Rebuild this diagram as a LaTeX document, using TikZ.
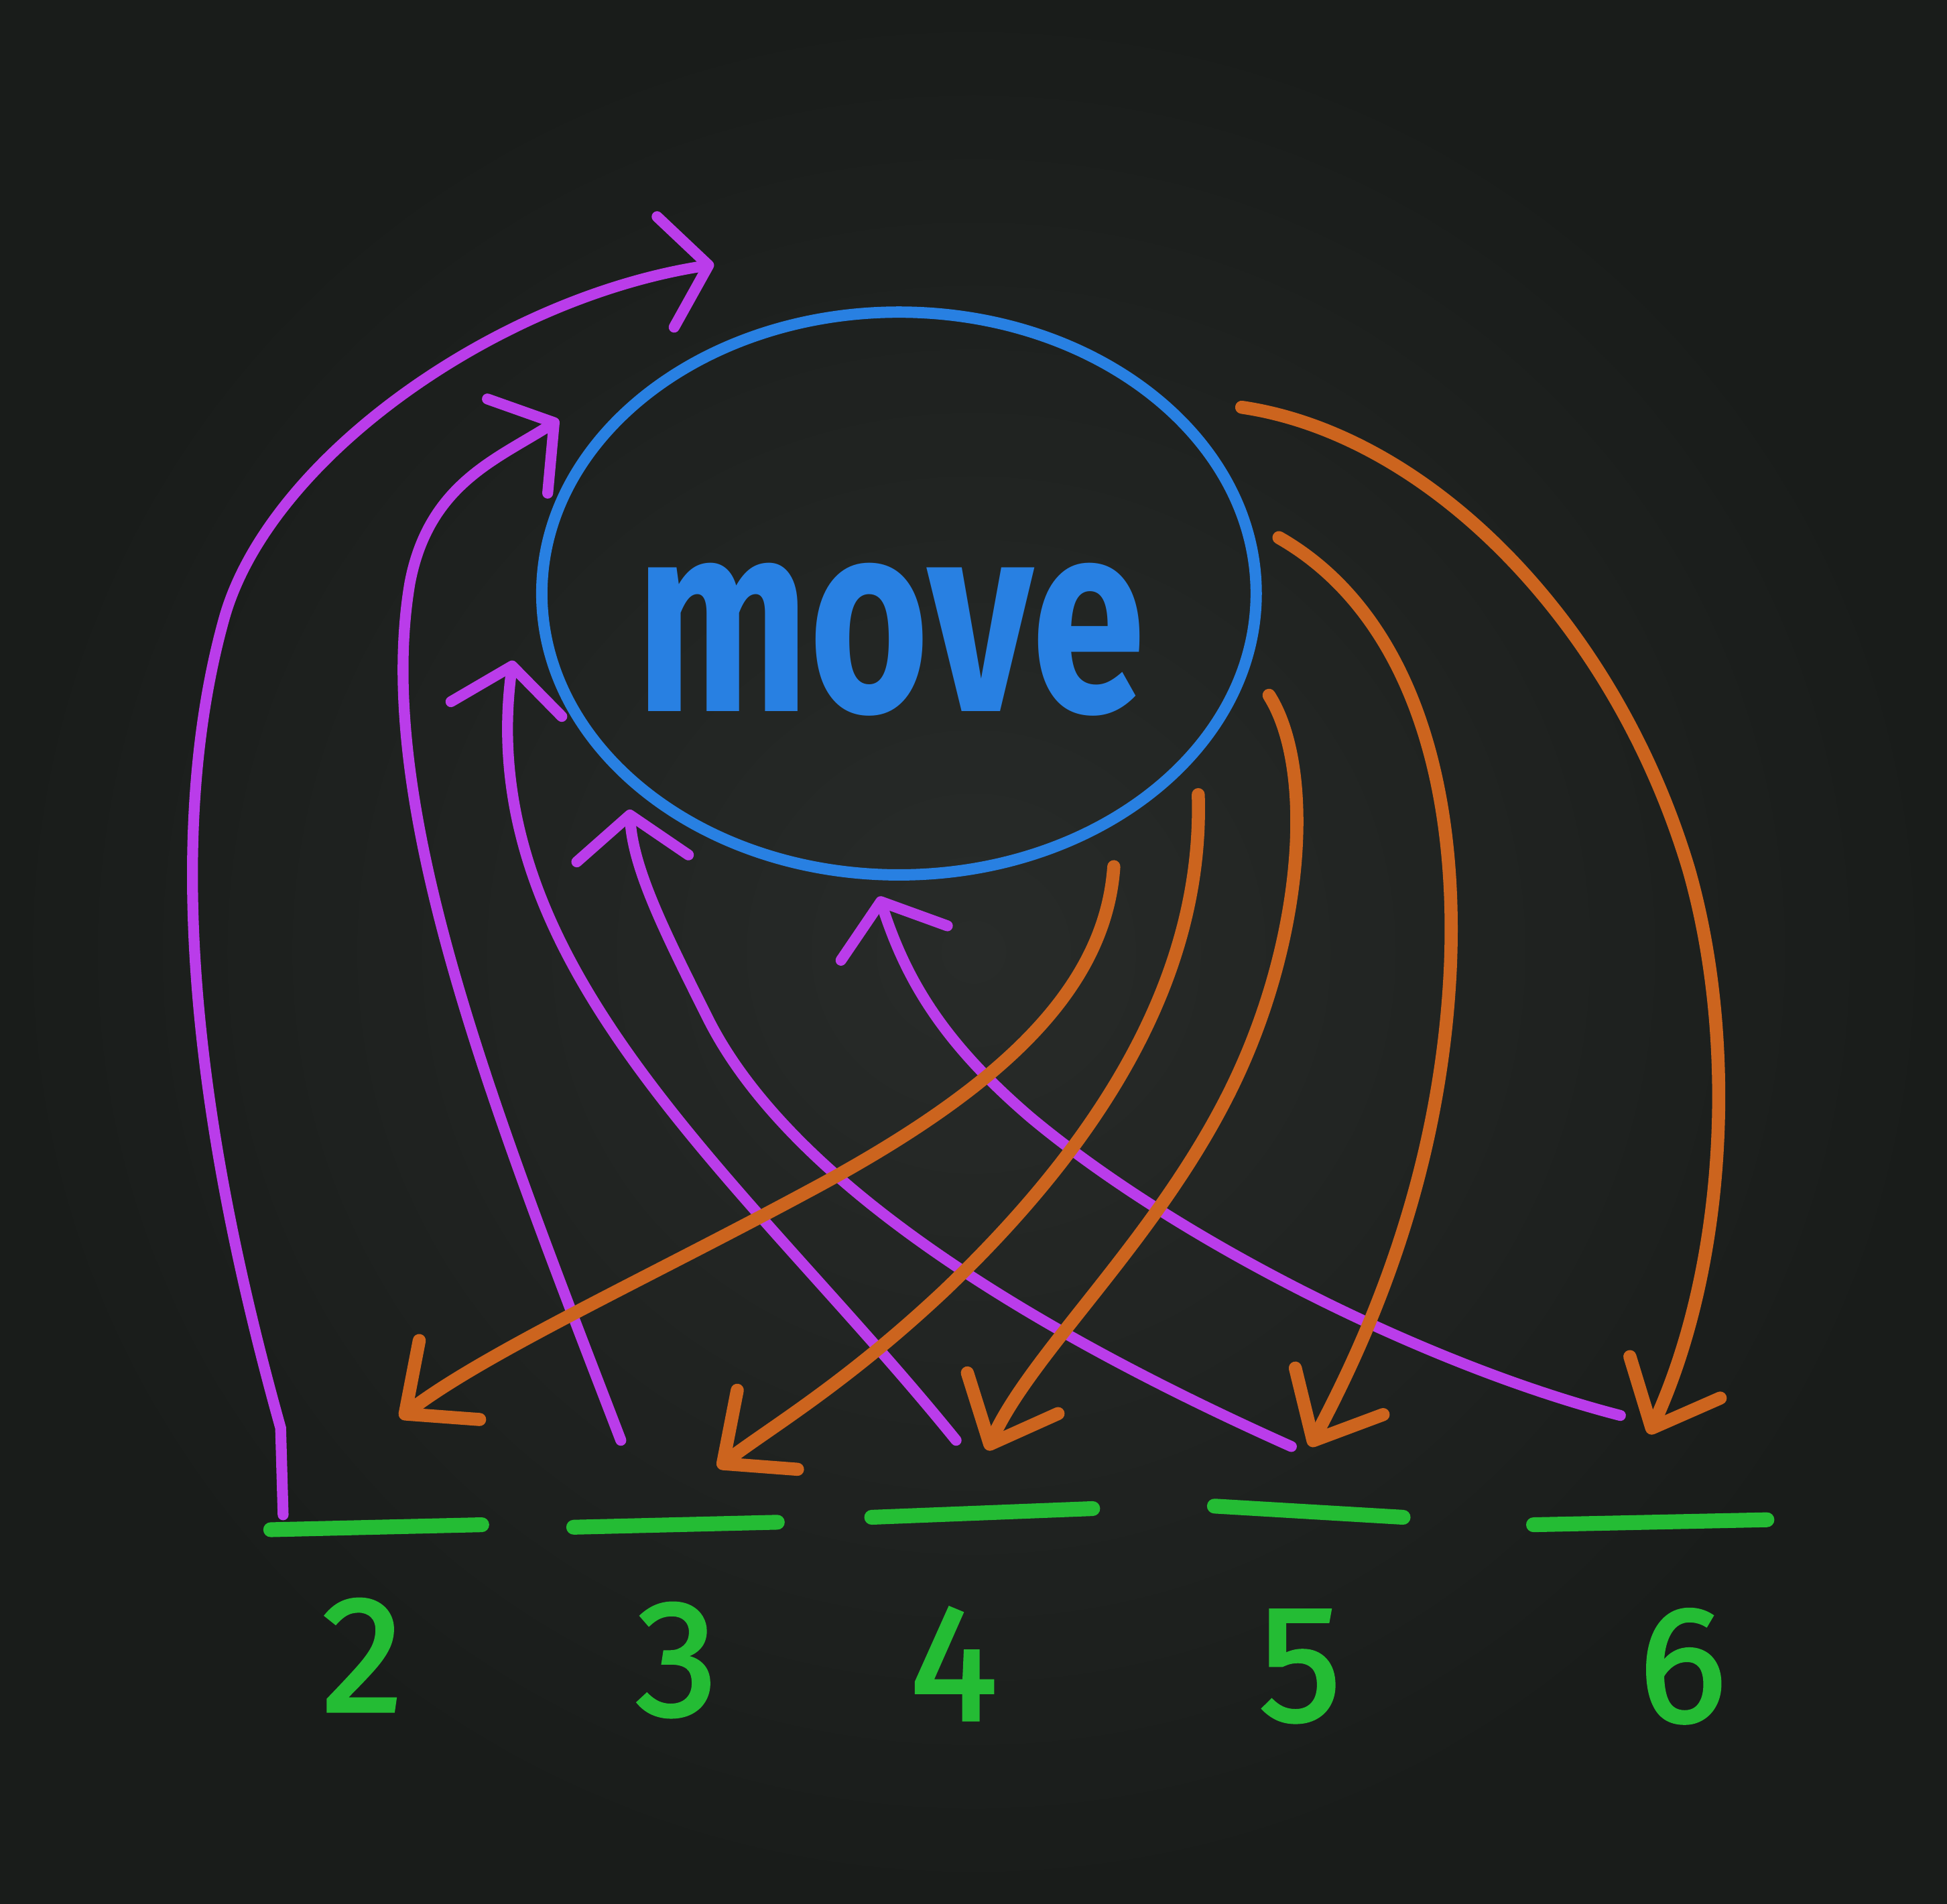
\documentclass[tikz,border=0pt]{standalone}
\usepackage{fontspec}
\setmainfont{Fira Sans}
\newfontfamily\digitfont{Fira Sans}[FakeBold=1.6]
\usetikzlibrary{arrows.meta,shapes.geometric}
\definecolor{board}{RGB}{25,28,26}
\definecolor{boardhi}{RGB}{40,43,41}
\definecolor{mkpurple}{RGB}{186,60,234}
\definecolor{mkorange}{RGB}{204,100,30}
\definecolor{mkblue}{RGB}{40,128,226}
\definecolor{mkgreen}{RGB}{36,188,52}
\begin{document}
\begin{tikzpicture}[x=0.01cm,y=-0.01cm,
  pline/.style={draw=mkpurple,line width=2.5pt,line cap=round,-{Straight Barb[length=3.5mm,width=9mm,round]}},
  oline/.style={draw=mkorange,line width=3pt,line cap=round,-{Straight Barb[length=4.5mm,width=8mm,round]}},
  slotline/.style={draw=mkgreen,line width=3.4pt,line cap=round},
  digit/.style={text=mkgreen,font=\digitfont\fontsize{38}{38}\selectfont,inner sep=0pt},
]
\useasboundingbox (0,0) rectangle (1568,1533);
\shade[inner color=boardhi, outer color=board] (0,0) rectangle (1568,1533);

% ellipse and word
\node[ellipse,draw=mkblue,line width=2.6pt,minimum width=5.75cm,minimum height=4.53cm,inner sep=0pt] (move) at (724,478) {};
\node[text=mkblue,font=\fontsize{62}{62}\selectfont\bfseries,inner sep=0pt] (word) at (717,515) {\scalebox{0.76}[1]{move}};

% slots
\coordinate (u2a) at (218,1232); \coordinate (u2b) at (388,1228);
\coordinate (u3a) at (462,1230); \coordinate (u3b) at (626,1226);
\coordinate (u4a) at (702,1222); \coordinate (u4b) at (880,1215);
\coordinate (u5a) at (978,1213); \coordinate (u5b) at (1130,1222);
\coordinate (u6a) at (1235,1228); \coordinate (u6b) at (1423,1224);
\draw[slotline] (u2a) -- (u2b);
\draw[slotline] (u3a) -- (u3b);
\draw[slotline] (u4a) -- (u4b);
\draw[slotline] (u5a) -- (u5b);
\draw[slotline] (u6a) -- (u6b);
\node[digit] (n2) at (292,1333) {2};
\node[digit] (n3) at (545,1337) {3};
\node[digit] (n4) at (768,1340) {4};
\node[digit] (n5) at (1047,1342) {5};
\node[digit] (n6) at (1355,1342) {6};

% purple arrow ends
\coordinate (p1s) at (228,1220); \coordinate (p1e) at (575,213);
\coordinate (p2s) at (500,1160); \coordinate (p2e) at (450,338);
\coordinate (p3s) at (770,1160); \coordinate (p3e) at (413,532);
\coordinate (p4s) at (1040,1165); \coordinate (p4e) at (507,652);
\coordinate (p5s) at (1305,1140); \coordinate (p5e) at (708,722);

\draw[pline] (p1s) -- (226,1150) .. controls (170,950) and (125,700) .. (180,500) .. controls (215,370) and (400,240) .. (p1e);
\draw[pline] (p2s) .. controls (400,900) and (300,650) .. (330,470) .. controls (345,390) and (400,370) .. (p2e);
\draw[pline] (p3s) .. controls (600,950) and (380,780) .. (p3e);
\draw[pline] (p4s) .. controls (850,1080) and (640,960) .. (570,820) .. controls (535,750) and (510,700) .. (p4e);
\draw[pline] (p5s) .. controls (1150,1100) and (950,1000) .. (830,900) .. controls (760,840) and (730,790) .. (p5e);

% orange arrow ends
\coordinate (o1s) at (897,698);  \coordinate (o1e) at (322,1142);
\coordinate (o2s) at (965,640);  \coordinate (o2e) at (578,1182);
\coordinate (o3s) at (1022,560); \coordinate (o3e) at (795,1168);
\coordinate (o4s) at (1030,433); \coordinate (o4e) at (1055,1165);
\coordinate (o5s) at (1000,328); \coordinate (o5e) at (1328,1155);

\draw[oline] (o1s) .. controls (890,800) and (800,880) .. (650,960) .. controls (520,1030) and (390,1090) .. (o1e);
\draw[oline] (o2s) .. controls (970,800) and (870,935) .. (760,1040) .. controls (680,1115) and (620,1150) .. (o2e);
\draw[oline] (o3s) .. controls (1060,620) and (1050,760) .. (990,880) .. controls (930,1000) and (830,1090) .. (o3e);
\draw[oline] (o4s) .. controls (1130,490) and (1175,620) .. (1168,780) .. controls (1160,950) and (1100,1080) .. (o4e);
\draw[oline] (o5s) .. controls (1150,350) and (1300,500) .. (1360,700) .. controls (1400,840) and (1390,1020) .. (o5e);
\end{tikzpicture}
\end{document}
